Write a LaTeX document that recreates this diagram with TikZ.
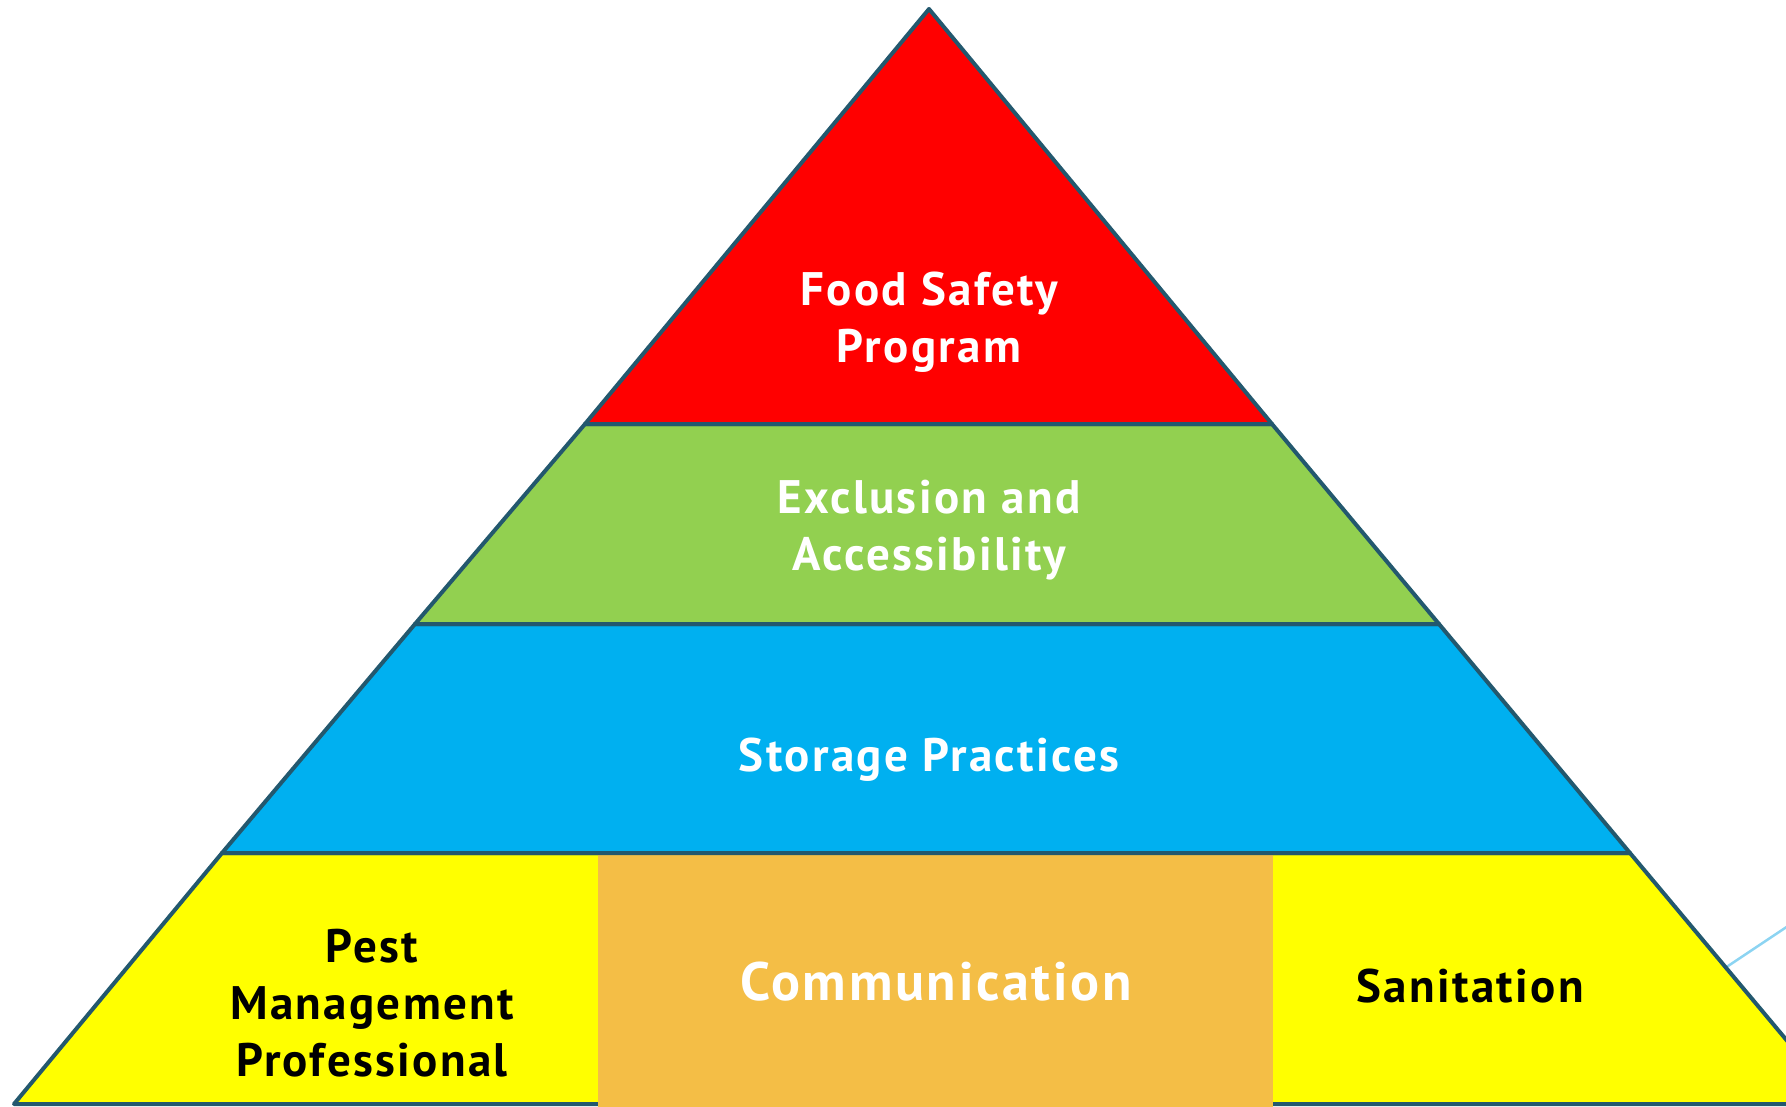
\documentclass[tikz,border=0pt]{standalone}
\usepackage{fontspec}
\setmainfont[LetterSpace=5]{PT Sans}
\definecolor{edge}{RGB}{35,88,110}
\definecolor{tred}{RGB}{255,0,0}
\definecolor{tgreen}{RGB}{146,208,80}
\definecolor{tblue}{RGB}{0,176,240}
\definecolor{tyellow}{RGB}{255,255,0}
\definecolor{torange}{RGB}{244,190,70}
\definecolor{tline}{RGB}{140,212,242}
\begin{document}
\begin{tikzpicture}[x=1pt,y=-1pt,
  tier/.style={draw=edge,line width=4pt,line join=round},
  lbl/.style={align=center,font=\bfseries\fontsize{47}{57}\selectfont,text=white,inner sep=0pt},
  dlbl/.style={lbl,text=black}]
\useasboundingbox (0,0) rectangle (1786,1106);
\clip (0,0) rectangle (1786,1106);
\draw[tline,line width=2.5pt] (1725,968) -- (1800,918);
% bottom tier
\draw[tier,fill=tyellow] (222,853) -- (1630,853) -- (1840,1104) -- (14,1104) -- cycle;
\fill[torange] (598,853) rectangle (1273,1110);
% storage
\draw[tier,fill=tblue] (415,624) -- (1439,624) -- (1630,853) -- (222,853) -- cycle;
% exclusion
\draw[tier,fill=tgreen] (585,424) -- (1272,424) -- (1439,624) -- (415,624) -- cycle;
% top
\draw[tier,fill=tred] (929,9) -- (1272,424) -- (585,424) -- cycle;
\node[lbl] (food) at (929,322) {Food Safety\\Program};
\node[lbl] (excl) at (929,530) {Exclusion and\\Accessibility};
\node[lbl] (stor) at (929,760) {Storage Practices};
\node[lbl,font=\bfseries\fontsize{54}{64}\selectfont] (comm) at (936,982) {Communication};
\node[dlbl] (pest) at (372,1003) {Pest\\Management\\Professional};
\node[dlbl] (sani) at (1470,986) {Sanitation};
\end{tikzpicture}
\end{document}
